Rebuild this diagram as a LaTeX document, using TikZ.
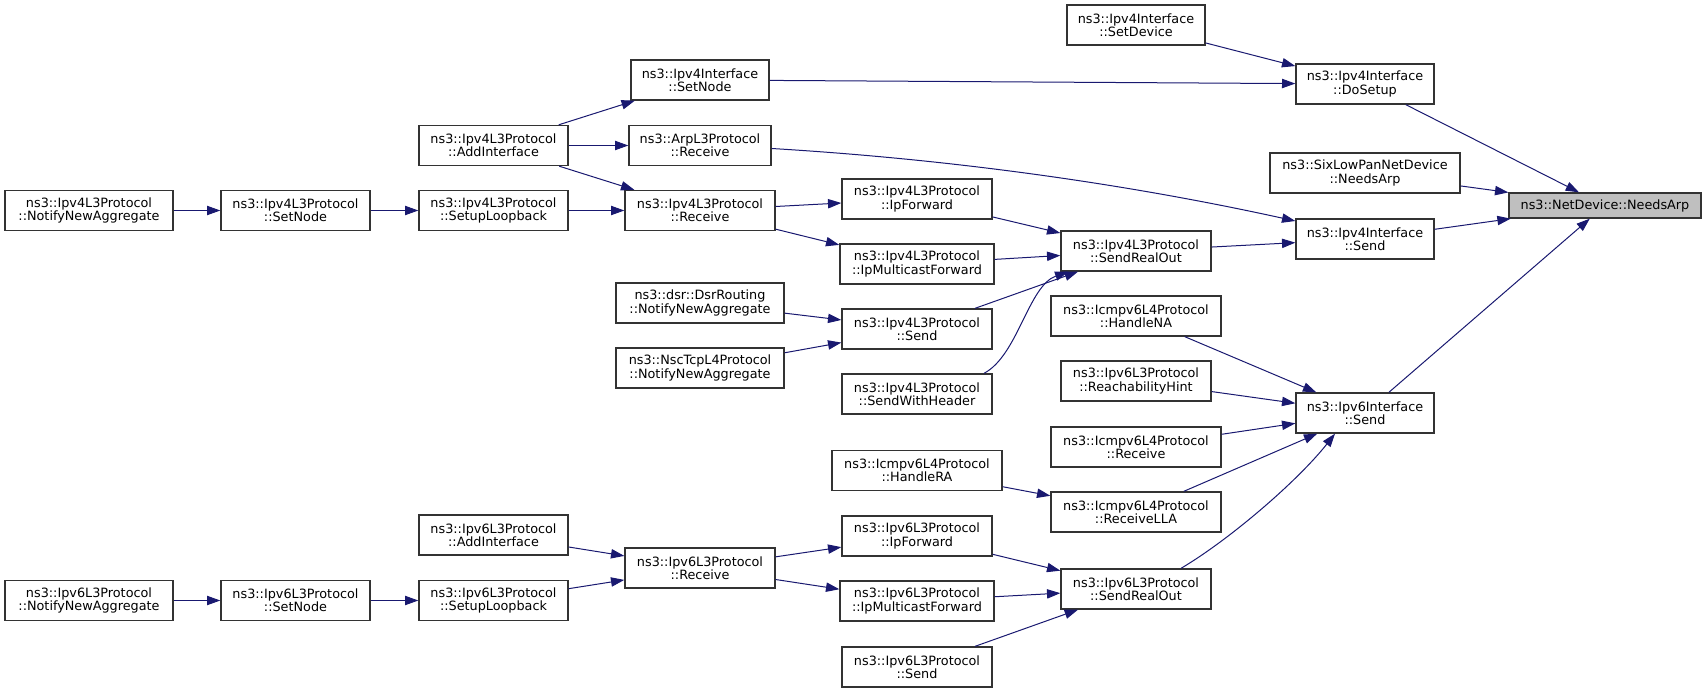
\documentclass[tikz,border=0pt]{standalone}
\usepackage{fontspec}
\setmainfont{DejaVu Sans}
\usetikzlibrary{arrows.meta,calc}
\definecolor{edgeblue}{HTML}{191970}
\definecolor{rootgray}{HTML}{BFBFBF}
\definecolor{boxline}{HTML}{333333}
\tikzset{
  fn/.style={draw=boxline, line width=1pt, fill=white, align=center, inner sep=0pt,
    minimum height=30pt, font=\fontsize{9.6}{10}\selectfont},
  rootfn/.style={fn, fill=rootgray, minimum height=18.75pt},
  call/.style={draw=edgeblue, line width=0.75pt, -{Triangle[length=10pt,width=7pt]}},
}
\begin{document}
\begin{tikzpicture}[x=0.75pt,y=-0.75pt]
\useasboundingbox (0,0) rectangle (1707,692);
% nodes
\node[rootfn, minimum width=192*0.75pt] (needsarp) at (1605,205.5) {ns3::NetDevice::NeedsArp};
\node[fn, minimum width=138*0.75pt] (setdevice) at (1136,25) {ns3::Ipv4Interface\\::SetDevice};
\node[fn, minimum width=138*0.75pt] (dosetup) at (1365,84) {ns3::Ipv4Interface\\::DoSetup};
\node[fn, minimum width=190*0.75pt] (sixlow) at (1365,173) {ns3::SixLowPanNetDevice\\::NeedsArp};
\node[fn, minimum width=138*0.75pt] (v4ifsend) at (1365,239) {ns3::Ipv4Interface\\::Send};
\node[fn, minimum width=138*0.75pt] (v4ifsetnode) at (700,80) {ns3::Ipv4Interface\\::SetNode};
\node[fn, minimum width=142*0.75pt] (arprecv) at (700,145.5) {ns3::ArpL3Protocol\\::Receive};
\node[fn, minimum width=149*0.75pt] (v4addif) at (493.5,145.5) {ns3::Ipv4L3Protocol\\::AddInterface};
\node[fn, minimum width=149*0.75pt] (v4setuplb) at (493.5,210.5) {ns3::Ipv4L3Protocol\\::SetupLoopback};
\node[fn, minimum width=149*0.75pt] (v4setnode) at (295.5,210.5) {ns3::Ipv4L3Protocol\\::SetNode};
\node[fn, minimum width=168*0.75pt] (v4nna) at (89,210.5) {ns3::Ipv4L3Protocol\\::NotifyNewAggregate};
\node[fn, minimum width=150*0.75pt] (v4recv) at (700,210.5) {ns3::Ipv4L3Protocol\\::Receive};
\node[fn, minimum width=150*0.75pt] (v4ipfwd) at (917,199) {ns3::Ipv4L3Protocol\\::IpForward};
\node[fn, minimum width=154*0.75pt] (v4ipmcf) at (917,264) {ns3::Ipv4L3Protocol\\::IpMulticastForward};
\node[fn, minimum width=150*0.75pt] (v4sro) at (1136,251) {ns3::Ipv4L3Protocol\\::SendRealOut};
\node[fn, minimum width=168*0.75pt] (dsr) at (700,303) {ns3::dsr::DsrRouting\\::NotifyNewAggregate};
\node[fn, minimum width=168*0.75pt] (nsc) at (700,368) {ns3::NscTcpL4Protocol\\::NotifyNewAggregate};
\node[fn, minimum width=150*0.75pt] (v4send) at (917,329) {ns3::Ipv4L3Protocol\\::Send};
\node[fn, minimum width=150*0.75pt] (v4swh) at (917,394) {ns3::Ipv4L3Protocol\\::SendWithHeader};
\node[fn, minimum width=170*0.75pt] (handlena) at (1136,316) {ns3::Icmpv6L4Protocol\\::HandleNA};
\node[fn, minimum width=150*0.75pt] (reach) at (1136,381) {ns3::Ipv6L3Protocol\\::ReachabilityHint};
\node[fn, minimum width=170*0.75pt] (icmprecv) at (1136,447) {ns3::Icmpv6L4Protocol\\::Receive};
\node[fn, minimum width=138*0.75pt] (v6ifsend) at (1365,413) {ns3::Ipv6Interface\\::Send};
\node[fn, minimum width=170*0.75pt] (handlera) at (917,470.5) {ns3::Icmpv6L4Protocol\\::HandleRA};
\node[fn, minimum width=170*0.75pt] (recvlla) at (1136,512) {ns3::Icmpv6L4Protocol\\::ReceiveLLA};
\node[fn, minimum width=149*0.75pt] (v6addif) at (493.5,535) {ns3::Ipv6L3Protocol\\::AddInterface};
\node[fn, minimum width=150*0.75pt] (v6recv) at (700,568) {ns3::Ipv6L3Protocol\\::Receive};
\node[fn, minimum width=150*0.75pt] (v6ipfwd) at (917,536) {ns3::Ipv6L3Protocol\\::IpForward};
\node[fn, minimum width=154*0.75pt] (v6ipmcf) at (917,601) {ns3::Ipv6L3Protocol\\::IpMulticastForward};
\node[fn, minimum width=150*0.75pt] (v6sro) at (1136,589) {ns3::Ipv6L3Protocol\\::SendRealOut};
\node[fn, minimum width=150*0.75pt] (v6send) at (917,667) {ns3::Ipv6L3Protocol\\::Send};
\node[fn, minimum width=149*0.75pt] (v6setuplb) at (493.5,600.5) {ns3::Ipv6L3Protocol\\::SetupLoopback};
\node[fn, minimum width=149*0.75pt] (v6setnode) at (295.5,600.5) {ns3::Ipv6L3Protocol\\::SetNode};
\node[fn, minimum width=168*0.75pt] (v6nna) at (89,600.5) {ns3::Ipv6L3Protocol\\::NotifyNewAggregate};
% edges
\draw[call] (dosetup) -- (needsarp);
\draw[call] (sixlow) -- (needsarp);
\draw[call] (v4ifsend) -- (needsarp);
\draw[call] (v6ifsend) -- (needsarp);
\draw[call] (setdevice) -- (dosetup);
\draw[call] (v4ifsetnode) -- (dosetup);
\draw[call] ($(arprecv.east)+(0,3)$) .. controls +(200,12) and +(-150,-33) .. ($(v4ifsend.west)+(0,-18)$);
\draw[call] (v4sro) -- (v4ifsend);
\draw[call] (v4addif) -- (v4ifsetnode);
\draw[call] (v4addif) -- (arprecv);
\draw[call] (v4addif) -- (v4recv);
\draw[call] (v4setuplb) -- (v4recv);
\draw[call] (v4setnode) -- (v4setuplb);
\draw[call] (v4nna) -- (v4setnode);
\draw[call] (v4recv) -- (v4ipfwd);
\draw[call] (v4recv) -- (v4ipmcf);
\draw[call] (v4ipfwd) -- (v4sro);
\draw[call] (v4ipmcf) -- (v4sro);
\draw[call] (v4send) -- (v4sro);
\draw[call] ($(v4swh.north)+(67,0)$) .. controls +(34,-18) and +(-40,14) .. ($(v4sro.south west)+(8,0)$);
\draw[call] (dsr) -- (v4send);
\draw[call] (nsc) -- (v4send);
\draw[call] (handlena) -- (v6ifsend);
\draw[call] (reach) -- (v6ifsend);
\draw[call] (icmprecv) -- (v6ifsend);
\draw[call] (recvlla) -- (v6ifsend);
\draw[call] ($(v6sro.north)+(45,0)$) .. controls +(49,-29) and +(-37,47) .. ($(v6ifsend.south)+(-30,0)$);
\draw[call] (handlera) -- (recvlla);
\draw[call] (v6addif) -- (v6recv);
\draw[call] (v6setuplb) -- (v6recv);
\draw[call] (v6setnode) -- (v6setuplb);
\draw[call] (v6nna) -- (v6setnode);
\draw[call] (v6recv) -- (v6ipfwd);
\draw[call] (v6recv) -- (v6ipmcf);
\draw[call] (v6ipfwd) -- (v6sro);
\draw[call] (v6ipmcf) -- (v6sro);
\draw[call] (v6send) -- (v6sro);
\end{tikzpicture}
\end{document}
